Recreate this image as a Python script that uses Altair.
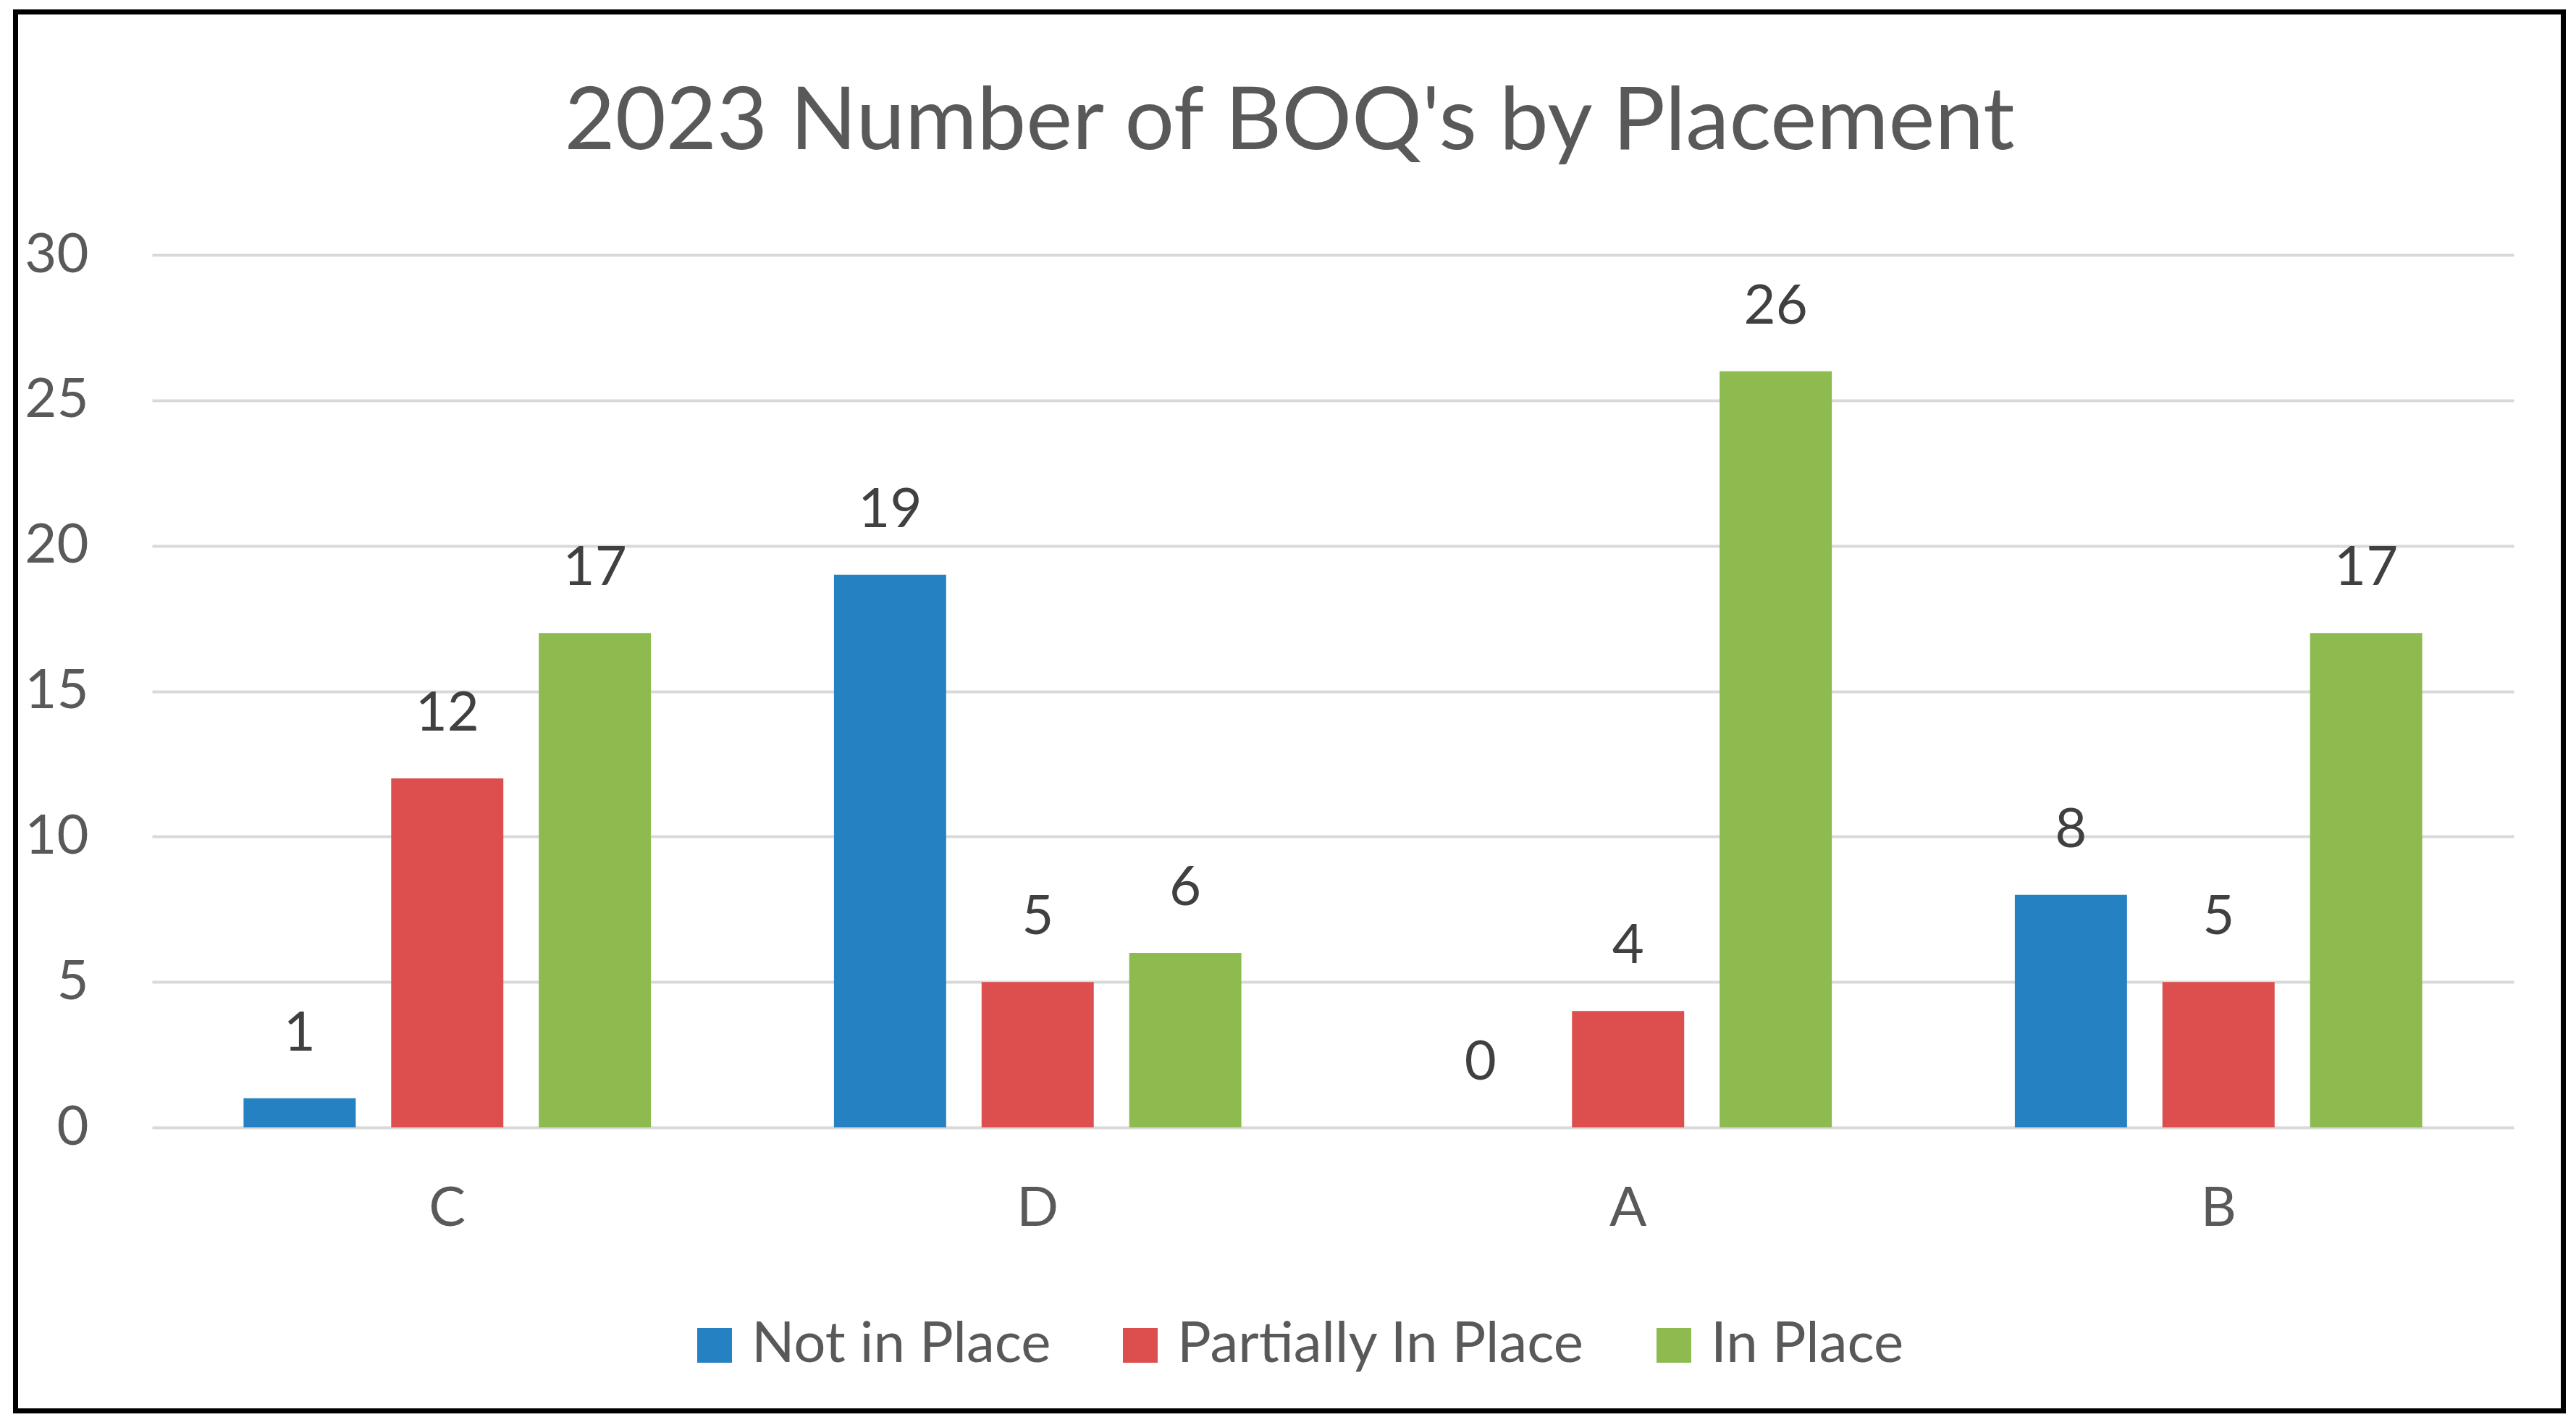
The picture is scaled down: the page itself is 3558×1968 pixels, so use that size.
import altair as alt
import pandas as pd

# ---- data ----
categories = ["C", "D", "A", "B"]
series_names = ["Not in Place", "Partially In Place", "In Place"]
not_in_place = [1, 19, 0, 8]
partially_in_place = [12, 5, 4, 5]
in_place = [17, 6, 26, 17]
series_colors = ["#2581C2", "#DC4F4E", "#8DBB4F"]
y_ticks = [0, 5, 10, 15, 20, 25, 30]
title_text = "2023 Number of BOQ's by Placement"

rows = []
for name, vals in zip(series_names, [not_in_place, partially_in_place, in_place]):
    for cat, v in zip(categories, vals):
        rows.append({"Category": cat, "Series": name, "Value": v})
df = pd.DataFrame(rows)

FONT = "Lato"
W, H = 3262, 1205

x_enc = alt.X("Category:N", sort=categories,
              scale=alt.Scale(paddingInner=0.25, paddingOuter=0.125),
              axis=alt.Axis(title=None, labelAngle=0, domain=False, ticks=False,
                            labelPadding=75, labelFont=FONT, labelFontSize=76,
                            labelColor="#595959", grid=False))
xo_enc = alt.XOffset("Series:N", sort=series_names,
                     scale=alt.Scale(paddingInner=0.24, paddingOuter=0.12))
y_enc = alt.Y("Value:Q", scale=alt.Scale(domain=[0, 30], nice=False),
              axis=alt.Axis(title=None, values=y_ticks, domain=False, ticks=False,
                            grid=True, gridColor="#D9D9D9", gridWidth=4,
                            labelPadding=88, labelFont=FONT, labelFontSize=76,
                            labelColor="#595959"))

base = alt.Chart(df)

bars = base.mark_bar().encode(
    x=x_enc,
    xOffset=xo_enc,
    y=y_enc,
    color=alt.Color("Series:N", sort=series_names,
                    scale=alt.Scale(domain=series_names, range=series_colors),
                    legend=alt.Legend(title=None, orient="none", direction="horizontal",
                                      legendX=738, legendY=1467,
                                      symbolType="square", symbolSize=2304,
                                      symbolStrokeWidth=0, labelFont=FONT,
                                      labelFontSize=78, labelColor="#595959",
                                      labelOffset=12, columnPadding=84,
                                      padding=0, labelLimit=1000)),
)

labels = base.mark_text(baseline="alphabetic", dy=-66, font=FONT, fontSize=76,
                        color="#404040").encode(
    x=alt.X("Category:N", sort=categories),
    xOffset=alt.XOffset("Series:N", sort=series_names),
    y=alt.Y("Value:Q"),
    text=alt.Text("Value:Q"),
)

frame = alt.Chart(alt.Data(values=[{"k": 1}])).mark_rect(
    filled=False, stroke="black", strokeWidth=7
).encode(
    x=alt.value(-188.5), x2=alt.value(3330.5),
    y=alt.value(-335.5), y2=alt.value(1596.5),
)

chart = alt.layer(bars, labels, frame).properties(
    width=W, height=H,
    title=alt.Title(title_text, font=FONT, fontSize=121, fontWeight="normal",
                    color="#595959", anchor="middle", frame="bounds",
                    baseline="alphabetic", offset=-314),
    autosize=alt.AutoSizeParams(type="none"),
    padding={"left": 202, "top": 344, "right": 78, "bottom": 400},
    background="white",
).configure_view(stroke=None)

chart.save("out.html", embed_options={"renderer": "svg", "actions": False})
